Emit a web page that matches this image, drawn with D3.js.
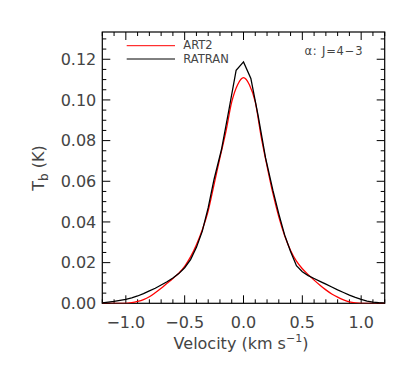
<!DOCTYPE html>
<html>
<head>
<meta charset="utf-8">
<script src="https://cdn.jsdelivr.net/npm/d3@7"></script>
<style>
  body { margin: 0; background: #fff; }
  text { font-family: "DejaVu Sans", sans-serif; fill: #444; }
</style>
</head>
<body>
<div id="chart"></div>
<script>
// ART2 profile (smooth model)
const art2V = [-1.2,-1.0,-0.95,-0.9,-0.85,-0.8,-0.75,-0.7,-0.65,-0.6,-0.55,-0.5,-0.45,-0.4,-0.35,-0.3,-0.25,-0.2,-0.15,-0.1,-0.05,0,
  0.05,0.1,0.15,0.2,0.25,0.3,0.35,0.4,0.45,0.5,0.55,0.6,0.65,0.7,0.75,0.8,0.85,0.9,0.95,1.0,1.2]
const art2T = [0,0,0.0003,0.0009,0.0018,0.0032,0.0052,0.0074,0.0098,0.0122,0.0148,0.0182,0.0228,0.0288,0.0362,0.0455,0.0585,0.0716,0.0843,0.0990,0.1075,0.1110,
  0.1075,0.0990,0.0820,0.0675,0.0540,0.0425,0.0332,0.0260,0.0207,0.0170,0.0141,0.0114,0.0089,0.0066,0.0046,0.0030,0.0017,0.0007,0.0002,0,0]

// RATRAN profile
const ratranV = [-1.2,-1.1,-1.0,-0.95,-0.9,-0.85,-0.8,-0.75,-0.7,-0.65,-0.6,-0.55,-0.5,-0.45,-0.4,-0.35,-0.3,-0.25,-0.1875,-0.125,-0.0625,0,
  0.0625,0.125,0.1875,0.25,0.3,0.35,0.4,0.45,0.5,0.55,0.6,0.65,0.7,0.75,0.8,0.85,0.9,0.95,1.0,1.05,1.1,1.15,1.2]
const ratranT = [0.0002,0.0009,0.0019,0.0027,0.0036,0.0048,0.0061,0.0074,0.0090,0.0106,0.0124,0.0146,0.0175,0.0215,0.0275,0.0355,0.0470,0.0610,0.0755,0.0948,0.1146,0.1187,
  0.1106,0.0920,0.0715,0.0555,0.0440,0.0335,0.0255,0.0185,0.0155,0.0136,0.0122,0.0108,0.0094,0.0080,0.0066,0.0053,0.0040,0.0029,0.0019,0.0011,0.0006,0.0003,0.0001]

const xTicks = [-1.0,-0.5,0.0,0.5,1.0]
const yTicks = [0.00,0.02,0.04,0.06,0.08,0.10,0.12]
const legendNames = ["ART2","RATRAN"]
const legendColors = ["#ff0000","#000000"]

const W = 415, H = 369
const margin = {left: 102.3, right: 30.3, top: 32, bottom: 65.7}

const svg = d3.select('#chart').append('svg')
  .attr('width', W)
  .attr('height', H)

const x = d3.scaleLinear().domain([-1.2, 1.2]).range([margin.left, W - margin.right])
const y = d3.scaleLinear().domain([0, 0.1334]).range([H - margin.bottom, margin.top])

const x0 = x.range()[0], x1 = x.range()[1]
const y0 = y.range()[0], y1 = y.range()[1]
const MAJ = 8, MIN = 4

// minor/major ticks on all four sides
const g = svg.append('g').attr('stroke', '#000').attr('stroke-width', 1)
const xMinor = d3.range(-12, 13).map(d => d / 10)
xMinor.forEach(v => {
  const major = Math.abs(Math.round(v * 2) - v * 2) < 1e-6
  const len = major ? MAJ : MIN
  g.append('line').attr('x1', x(v)).attr('x2', x(v)).attr('y1', y0).attr('y2', y0 - len)
  g.append('line').attr('x1', x(v)).attr('x2', x(v)).attr('y1', y1).attr('y2', y1 + len)
})
const yMinor = d3.range(0, 27).map(d => d * 0.005)
yMinor.forEach(v => {
  const major = d3.range(0, 7).some(k => Math.abs(k * 0.02 - v) < 1e-6)
  const len = major ? MAJ : MIN
  g.append('line').attr('y1', y(v)).attr('y2', y(v)).attr('x1', x0).attr('x2', x0 + len)
  g.append('line').attr('y1', y(v)).attr('y2', y(v)).attr('x1', x1).attr('x2', x1 - len)
})

// frame
svg.append('rect')
  .attr('x', x0).attr('y', y1)
  .attr('width', x1 - x0).attr('height', y0 - y1)
  .attr('fill', 'none').attr('stroke', '#000').attr('stroke-width', 1.2)

// tick labels
svg.selectAll('.xl').data(xTicks).join('text')
  .attr('x', d => x(d))
  .attr('y', 327.7)
  .attr('text-anchor', 'middle')
  .style('font-size', '16px')
  .text(d => d3.format('.1f')(d).replace('-', '\u2212'))

svg.selectAll('.yl').data(yTicks).join('text')
  .attr('x', x0 - 6)
  .attr('y', d => y(d))
  .attr('dy', '0.35em')
  .attr('text-anchor', 'end')
  .style('font-size', '16px')
  .text(d => d3.format('.2f')(d))

// axis titles
const xt = svg.append('text')
  .attr('x', 241).attr('y', 349.3)
  .attr('text-anchor', 'middle')
  .style('font-size', '16px')
xt.append('tspan').text('Velocity (km s')
xt.append('tspan').attr('dy', -7).style('font-size', '11px').text('\u22121')
xt.append('tspan').attr('dy', 7).text(')')

const yt = svg.append('text')
  .attr('transform', 'translate(44,168) rotate(-90)')
  .attr('text-anchor', 'middle')
  .style('font-size', '16px')
yt.append('tspan').text('T')
yt.append('tspan').attr('dy', 4).style('font-size', '12px').text('b')
yt.append('tspan').attr('dy', -4).text(' (K)')

// curves
const line = d3.line().x(d => x(d[0])).y(d => y(d[1]))
const clipId = 'plotclip'
svg.append('clipPath').attr('id', clipId)
  .append('rect').attr('x', x0).attr('y', y1).attr('width', x1 - x0).attr('height', y0 - y1)

svg.append('path')
  .datum(d3.zip(art2V, art2T))
  .attr('clip-path', `url(#${clipId})`)
  .attr('fill', 'none')
  .attr('stroke', legendColors[0])
  .attr('stroke-width', 1.3)
  .attr('d', line.curve(d3.curveMonotoneX))

svg.append('path')
  .datum(d3.zip(ratranV, ratranT))
  .attr('clip-path', `url(#${clipId})`)
  .attr('fill', 'none')
  .attr('stroke', legendColors[1])
  .attr('stroke-width', 1.3)
  .attr('d', line.curve(d3.curveLinear))

// legend
const legY = [45.7, 59]
legendNames.forEach((name, i) => {
  svg.append('line')
    .attr('x1', 126.7).attr('x2', 175)
    .attr('y1', legY[i]).attr('y2', legY[i])
    .attr('stroke', legendColors[i]).attr('stroke-width', 1)
  svg.append('text')
    .attr('x', 183.3).attr('y', legY[i] + 3.5)
    .style('font-size', '11.5px')
    .text(name)
})

svg.append('text')
  .attr('x', 363.3).attr('y', 55)
  .attr('text-anchor', 'end')
  .style('font-size', '11.5px')
  .style('letter-spacing', '0.8px')
  .text('\u03b1: J=4\u22123')
</script>
</body>
</html>
